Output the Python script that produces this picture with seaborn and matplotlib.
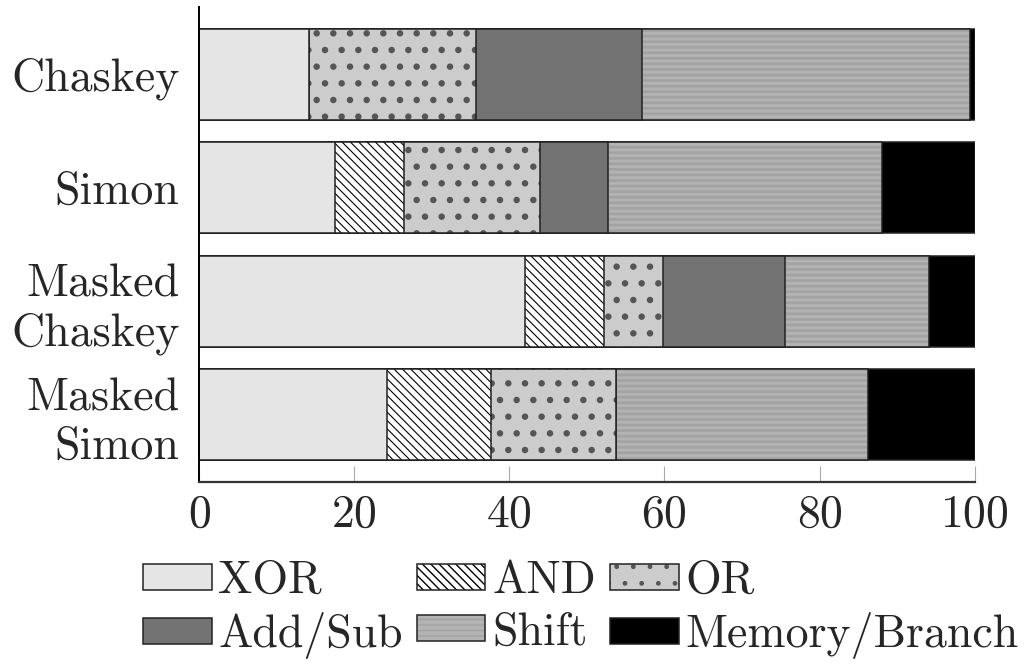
import numpy as np
import pandas as pd
import seaborn as sns
import matplotlib.pyplot as plt
import matplotlib.patches as mpatches
from matplotlib.colors import to_rgba

# share of instructions per operation type (percent)
ciphers = ['Chaskey', 'Simon', 'Masked\nChaskey', 'Masked\nSimon']
ops = ['XOR', 'AND', 'OR', 'Add/Sub', 'Shift', 'Memory/Branch']
xor = [14.2, 17.5, 42.0, 24.2]
and_ = [0.0, 8.9, 10.2, 13.4]
or_ = [21.5, 17.5, 7.6, 16.2]
addsub = [21.4, 8.8, 15.8, 0.0]
shift = [42.3, 35.3, 18.5, 32.5]
membranch = [0.6, 12.0, 5.9, 13.7]

# face colour, hatch, hatch colour, hatch linewidth
styles = {
    'XOR': ('#e5e5e5', None, '#222222', 1.0),
    'AND': ('white', '\\\\\\\\', 'black', 0.8),
    'OR': ('#cccccc', '.', '#555555', 2.2),
    'Add/Sub': ('#737373', None, '#222222', 1.0),
    'Shift': ('#b3b3b3', '---', '#a3a3a3', 2.0),
    'Memory/Branch': ('black', None, 'black', 1.0),
}

df = pd.DataFrame({'cipher': ciphers, 'XOR': xor, 'AND': and_, 'OR': or_,
                   'Add/Sub': addsub, 'Shift': shift, 'Memory/Branch': membranch})
cum = df[ops].cumsum(axis=1)
cum['cipher'] = ciphers

sns.set_style('white')
plt.rcParams['font.family'] = ['cmr10', 'DejaVu Serif']
plt.rcParams['mathtext.fontset'] = 'cm'
plt.rcParams['axes.formatter.use_mathtext'] = True
plt.rcParams['font.size'] = 33

fig, ax = plt.subplots(figsize=(10.26, 6.64), dpi=100)
fig.subplots_adjust(left=0.194, right=0.950, top=0.9895, bottom=0.274)


def style_patches(patches, op):
    fc, hatch, hc, hlw = styles[op]
    for p in patches:
        if hasattr(p, 'set_hatchcolor'):
            p.set_hatchcolor(hc)
        else:
            p._hatch_color = to_rgba(hc)
        if hasattr(p, 'set_hatch_linewidth'):
            p.set_hatch_linewidth(hlw)
        else:
            p._hatch_linewidth = hlw


# stacked bars: draw cumulative totals from the longest down
for op in ops[::-1]:
    fc, hatch, hc, hlw = styles[op]
    n0 = len(ax.patches)
    sns.barplot(data=cum, x=op, y='cipher', order=ciphers, orient='h',
                color=fc, saturation=1, width=0.8, errorbar=None,
                edgecolor='#222222', linewidth=1.1, hatch=hatch, ax=ax)
    style_patches(ax.patches[n0:], op)

ax.set_xlim(0, 100)
ax.set_ylim(3.594, -0.594)
ax.set_xlabel('')
ax.set_ylabel('')
ax.set_xticks([0, 20, 40, 60, 80, 100])
ax.tick_params(axis='x', direction='in', length=11.5, width=0.8,
               color='#aaaaaa', pad=9, bottom=True)
ax.tick_params(axis='y', length=0, pad=14)
sns.despine(ax=ax, top=True, right=True)
ax.spines['left'].set_color('black')
ax.spines['left'].set_linewidth(1.4)
ax.spines['bottom'].set_color('#333333')
ax.spines['bottom'].set_linewidth(1.6)

handles = []
for op in ops:
    fc, hatch, hc, hlw = styles[op]
    h = mpatches.Patch(facecolor=fc, edgecolor='#222222', hatch=hatch,
                       linewidth=1.1, label=op)
    style_patches([h], op)
    handles.append(h)
order = [0, 3, 1, 4, 2, 5]
fig.legend([handles[i] for i in order], [ops[i] for i in order], ncol=3,
           loc='center', bbox_to_anchor=(0.566, 0.082), frameon=False,
           handlelength=1.5, handleheight=0.5, handletextpad=0.15,
           columnspacing=0.3, labelspacing=0.22, borderpad=0)

fig.savefig('out.png', dpi=100)
